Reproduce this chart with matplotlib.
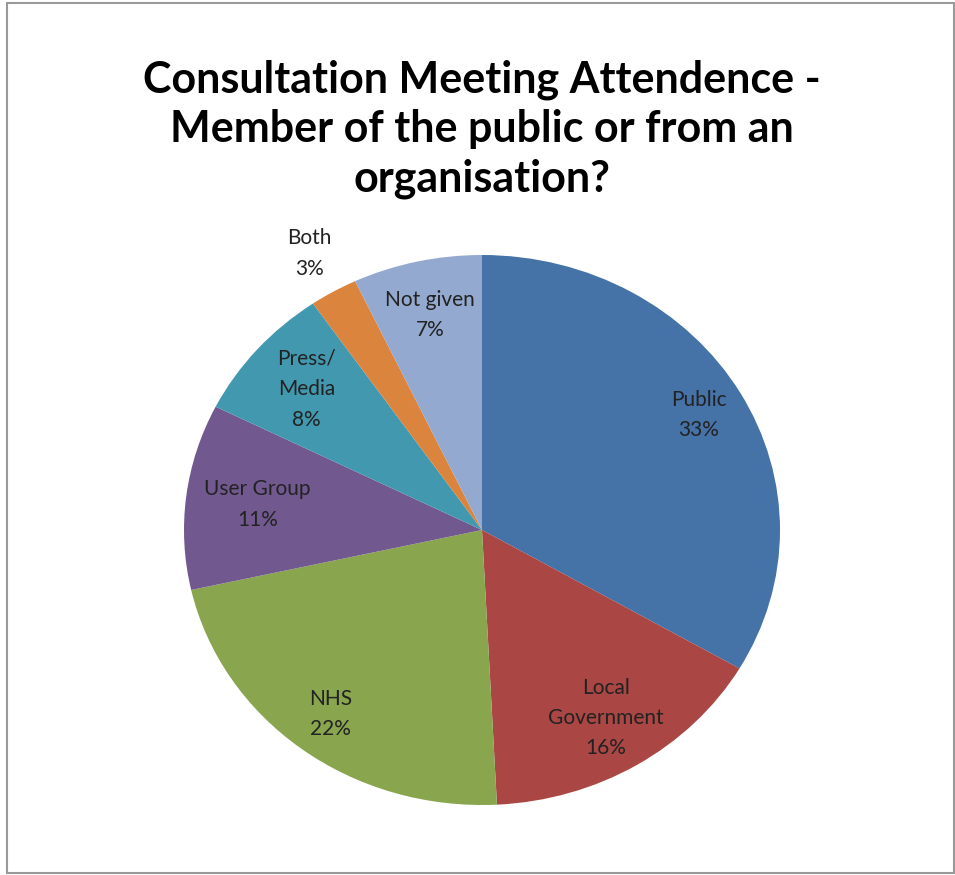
import numpy as np
import matplotlib
matplotlib.use("Agg")
import matplotlib.pyplot as plt
from matplotlib.patches import Rectangle

categories = ["Public", "Local\nGovernment", "NHS", "User Group", "Press/\nMedia", "Both", "Not given"]
values = [33.4, 15.8, 22.3, 10.9, 8.0, 2.6, 7.0]
colors = ["#4572A7", "#AA4643", "#89A54E", "#71588F", "#4198AF", "#DB843D", "#93A9CF"]
label_dist = [0.84, 0.80, 0.84, 0.76, 0.78, 1.16, 0.80]

title = "Consultation Meeting Attendence -\nMember of the public or from an\norganisation?"

plt.rcParams["font.family"] = ["Lato", "DejaVu Sans"]

fig = plt.figure(figsize=(9.55, 8.75), dpi=100)
ax = fig.add_axes([184 / 955, 70 / 875, 596 / 955, 550 / 875])

wedges, _ = ax.pie(values, colors=colors, startangle=90, counterclock=False,
                   wedgeprops=dict(linewidth=0))
ax.set_aspect("auto")
ax.set_xlim(-1, 1)
ax.set_ylim(-1, 1)

total = sum(values)
for w, cat, v, d in zip(wedges, categories, values, label_dist):
    th = np.deg2rad((w.theta1 + w.theta2) / 2)
    x, y = d * np.cos(th), d * np.sin(th)
    ax.text(x, y, f"{cat}\n{round(100 * v / total):.0f}%", ha="center", va="center",
            fontsize=15, color="#222222", linespacing=1.65, clip_on=False)

fig.text(482 / 955, 1 - 129 / 875, title, ha="center", va="center", fontsize=31,
         fontweight="bold", linespacing=1.28)

fig.add_artist(Rectangle((7 / 955, 2 / 875), 947 / 955, 870 / 875, transform=fig.transFigure,
                         fill=False, edgecolor="#999999", linewidth=1.5))

fig.savefig("out.png", dpi=100)
